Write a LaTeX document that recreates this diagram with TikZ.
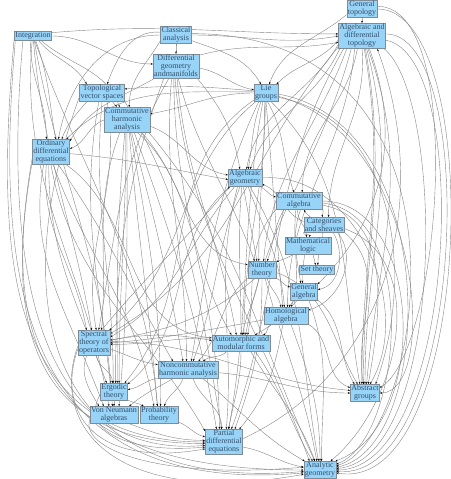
\documentclass[tikz,border=0pt]{standalone}
\usepackage{fontspec}
\setmainfont{Liberation Serif}
\usetikzlibrary{arrows.meta,backgrounds}
\definecolor{cField}{HTML}{98D3F8}
\definecolor{cFrame}{HTML}{7E8C98}
\definecolor{cEdge}{HTML}{858585}
\definecolor{cText}{HTML}{33506A}

\begin{document}
\begin{tikzpicture}[x=1pt, y=1pt,
  fld/.style={rectangle, draw=cFrame, fill=cField, line width=0.45pt, inner sep=1pt,
              align=center, text=cText, font=\fontsize{8}{8}\selectfont},
  dep/.style={-{Stealth[length=2.4pt, width=1.8pt, color=black]}, draw=cEdge, line width=0.4pt},
  ]
  \useasboundingbox (0,0) rectangle (450,-479);

  % fields
  \node[fld] (gt)   at (362,-9)   {General\\topology};
  \node[fld] (adt)  at (362,-36)  {Algebraic and\\differential\\topology};
  \node[fld] (intg) at (33,-36)   {Integration};
  \node[fld] (clan) at (176,-35)  {Classical\\analysis};
  \node[fld] (dg)   at (176,-66)  {Differential\\geometry\\andmanifolds};
  \node[fld] (lie)  at (266,-93)  {Lie\\groups};
  \node[fld] (tvs)  at (102,-93)  {Topological\\vector spaces};
  \node[fld] (cha)  at (127,-120) {Commutative\\harmonic\\analysis};
  \node[fld] (ode)  at (51,-152)  {Ordinary\\differential\\equations};
  \node[fld] (ag)   at (245,-178) {Algebraic\\geometry};
  \node[fld] (calg) at (299,-201) {Commutative\\algebra};
  \node[fld] (cs)   at (324,-225) {Categories\\and sheaves};
  \node[fld] (ml)   at (308,-246) {Mathematical\\logic};
  \node[fld] (st)   at (317,-270) {Set theory};
  \node[fld] (nt)   at (262,-270) {Number\\theory};
  \node[fld] (ga)   at (304,-292) {General\\algebra};
  \node[fld] (ha)   at (286,-316) {Homological\\algebra};
  \node[fld] (amf)  at (241,-343) {Automorphic and\\modular forms};
  \node[fld] (spec) at (94,-343)  {Spectral\\theory of\\operators};
  \node[fld] (ncha) at (188,-370) {Noncommutative\\harmonic analysis};
  \node[fld] (abs)  at (365,-393) {Abstract\\groups};
  \node[fld] (erg)  at (114,-392) {Ergodic\\theory};
  \node[fld] (vna)  at (114,-415) {Von Neumann\\algebras};
  \node[fld] (prob) at (159,-415) {Probability\\theory};
  \node[fld] (pde)  at (224,-442) {Partial\\differential\\equations};
  \node[fld] (ang)  at (320,-470) {Analytic\\geometry};

  \begin{scope}[on background layer]
  % dependencies
  \foreach \src/\dst/\oa/\ia in {
    gt.south/adt.north/-90/90, gt.-160/lie.70/-140/70,
    intg.-120/ode.110/-90/90, intg.-60/ode.70/-70/100, intg.-30/cha.120/-40/110,
    intg.-40/tvs.150/-50/120, intg.0/dg.175/0/180, intg.10/adt.175/5/180,
    intg.-75/erg.110/-80/95, intg.-85/spec.100/-85/100, intg.-70/prob.100/-70/95,
    intg.-100/vna.120/-95/100,
    clan.south/dg.north/-90/90, clan.180/ode.60/180/80, clan.170/tvs.60/175/70,
    clan.-20/lie.120/-20/120, clan.-160/cha.80/-120/90, clan.0/adt.180/0/190,
    dg.-5/lie.165/-10/170, dg.25/adt.195/15/190, dg.-100/pde.110/-90/90,
    dg.-95/ang.140/-85/110, dg.-85/amf.120/-85/100, dg.-80/nt.130/-75/110,
    dg.-110/ncha.100/-95/90, dg.-150/ode.30/-150/60, dg.-120/spec.70/-120/80,
    dg.-30/ag.120/-50/100, dg.-135/erg.80/-110/90,
    adt.-170/lie.40/-130/45, adt.-160/ag.80/-120/80, adt.-150/ag.60/-115/70,
    adt.-140/nt.80/-110/85, adt.-130/amf.60/-105/80, adt.-120/ha.80/-95/90,
    adt.-110/calg.70/-100/90, adt.-90/cs.60/-85/90, adt.-80/abs.110/-80/90,
    adt.-75/abs.100/-80/90, adt.-70/abs.90/-75/90, adt.-65/abs.80/-70/85,
    adt.-60/ga.30/-70/45, adt.-145/pde.60/-120/70, adt.-155/spec.30/-130/30,
    lie.180/cha.15/180/10, lie.170/tvs.10/175/5, lie.175/ode.40/180/45,
    lie.-120/ag.70/-110/80, lie.-100/nt.110/-90/90, lie.-95/amf.70/-90/90,
    lie.-90/ha.110/-85/95, lie.-80/calg.120/-60/110, lie.-130/ncha.70/-115/80,
    lie.-140/spec.40/-140/40, lie.-150/erg.40/-145/50, lie.-110/pde.70/-100/80,
    lie.-60/abs.120/-45/100, lie.-20/abs.40/-10/70,
    tvs.-40/cha.130/-70/100, tvs.-60/spec.80/-80/100, tvs.-90/erg.95/-95/90,
    tvs.-110/vna.100/-100/95, tvs.-150/ode.50/-130/70, tvs.-20/pde.100/-60/100,
    cha.180/ode.10/200/20, cha.-120/spec.60/-110/85, cha.-100/erg.70/-95/90,
    cha.-95/erg.60/-90/90, cha.-90/vna.60/-90/85, cha.-80/prob.100/-85/95,
    cha.-75/prob.80/-80/90, cha.-70/ncha.120/-75/100, cha.-60/pde.120/-70/100,
    cha.-50/nt.160/-40/170, cha.-40/amf.140/-50/120, cha.-15/ag.170/-20/170,
    cha.-30/ang.120/-50/115,
    ode.-5/ag.185/-5/170, ode.-110/spec.120/-95/100, ode.-100/erg.130/-90/110,
    ode.-80/prob.120/-70/100, ode.-60/ncha.150/-55/120, ode.-40/amf.170/-35/175,
    ode.-120/vna.140/-100/110, ode.-90/pde.150/-80/120,
    ag.-30/calg.170/-20/170, ag.0/abs.60/5/60, ag.-100/nt.120/-80/100,
    ag.-110/amf.90/-95/90, ag.-120/ncha.60/-110/70, ag.-140/spec.20/-130/30,
    ag.-70/ha.100/-70/95, ag.-60/ang.100/-60/100, ag.-130/pde.80/-105/85,
    ag.-150/erg.30/-140/40,
    calg.-20/cs.100/-30/100, calg.-150/nt.60/-120/70, calg.-110/ga.110/-95/100,
    calg.-100/ml.100/-90/90, calg.-80/ha.60/-110/70, calg.-10/abs.70/-10/80,
    calg.0/ang.30/0/20, calg.-160/amf.50/-130/80,
    cs.-160/ml.80/-120/80, cs.-100/st.80/-90/90, cs.-40/ga.10/-60/10,
    cs.-30/ha.15/-50/15, cs.-20/abs.100/-40/100, cs.-10/ang.40/-20/40,
    cs.170/ag.-20/160/-20, cs.150/calg.-60/130/-70,
    ml.-150/nt.30/-150/20, ml.-60/st.110/-80/90, ml.-110/ga.100/-100/90,
    nt.-30/ga.160/-20/170, nt.-60/ha.120/-70/100, nt.-110/amf.80/-100/80,
    nt.-130/spec.10/-140/10, nt.-150/ncha.40/-140/50, nt.-90/pde.50/-90/70,
    nt.-70/ang.110/-75/100, nt.-10/abs.130/-20/120,
    ga.-140/ha.70/-110/70, ga.-30/abs.140/-40/120, ga.-130/amf.30/-130/30,
    ga.-60/ang.80/-70/90,
    ha.-150/amf.20/-150/20, ha.-20/abs.160/-30/160, ha.-60/ang.90/-70/90,
    ha.-110/pde.40/-100/50, ha.-170/spec.0/190/5,
    amf.-40/ang.120/-60/110, amf.-30/ang.130/-55/120, amf.-150/ncha.30/-130/40,
    amf.-90/pde.70/-90/80, amf.170/spec.-5/180/0,
    spec.-20/ncha.170/-20/170, spec.-80/erg.100/-80/90, spec.-120/vna.150/-110/120,
    spec.5/abs.170/0/175, spec.10/amf.175/10/170, spec.60/ag.-150/50/-130,
    ncha.-165/erg.10/-170/10, ncha.-150/vna.30/-150/40, ncha.-120/prob.60/-110/70,
    ncha.-60/pde.100/-70/90, ncha.-5/abs.180/-5/180, ncha.-30/ang.150/-40/150,
    erg.-30/prob.150/-30/150, erg.-90/vna.90/-90/90,
    vna.-30/pde.175/-20/180, prob.-20/pde.165/-20/165,
    pde.-15/ang.170/-10/170, pde.10/adt.-40/25/-70}
    \draw[dep] (\src) to[out=\oa, in=\ia] (\dst);

  % long detours round the sides
  \foreach \src/\dst/\oa/\ia/\ds/\dt in {
    intg.-175/pde.180/-95/180/220/200, intg.-165/ang.-170/-95/185/250/280,
    intg.-155/pde.-170/-95/185/200/180, ode.-160/ang.180/-100/180/200/250,
    ode.-150/pde.-175/-100/180/170/170, tvs.-170/ang.-175/-110/185/220/260,
    spec.-160/pde.-160/-110/190/60/120, spec.-170/ang.-165/-110/190/80/200,
    erg.-170/pde.-165/-120/185/40/80, vna.-170/ang.170/-110/185/30/150,
    gt.0/ang.-10/0/-10/110/140, adt.5/ang.-5/0/-5/95/130,
    adt.-10/ang.0/-10/0/90/120, adt.-30/ang.5/-40/5/80/110,
    lie.-5/ang.10/-10/10/170/100, lie.-15/abs.0/-15/0/150/60,
    clan.5/ang.15/0/15/300/90, calg.-5/ang.20/-5/20/100/70,
    gt.10/abs.20/0/30/90/70}
    \draw[dep] (\src) to[out=\oa, in=\ia, out distance=\ds pt, in distance=\dt pt] (\dst);
  \end{scope}
\end{tikzpicture}
\end{document}
